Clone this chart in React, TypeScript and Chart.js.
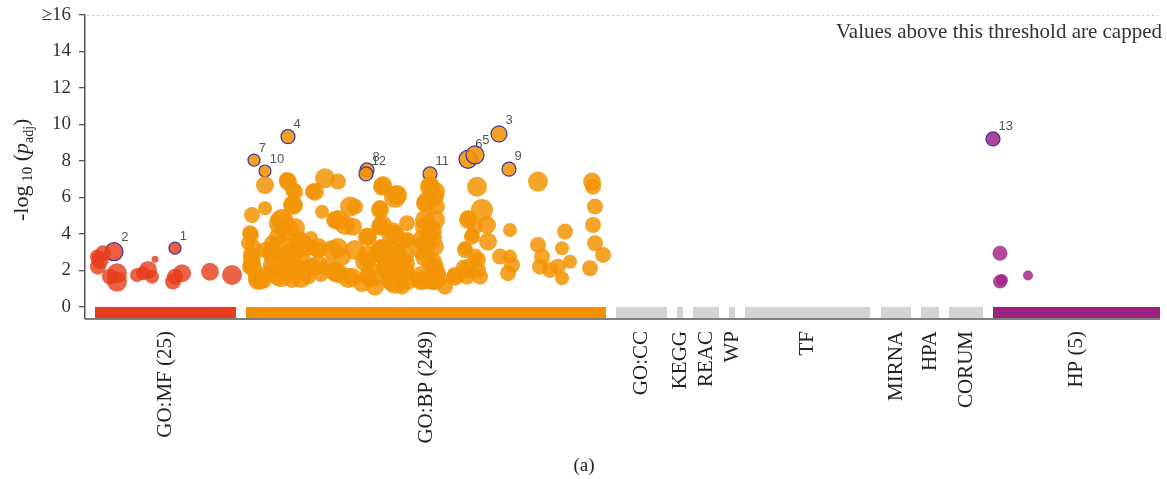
import React, { useEffect, useRef } from 'react';
import { Chart, registerables } from 'chart.js';

Chart.register(...registerables);

// ---- axis / tick data ----
const yTickValues = [0, 2, 4, 6, 8, 10, 12, 14, 16];
const yCapValue = 16;
const yCapLabel = '≥16';
const capNote = 'Values above this threshold are capped';
const panelLabel = '(a)';

// ---- data sources along the x axis (term positions) ----
const sourceNames = ['GO:MF (25)', 'GO:BP (249)', 'GO:CC', 'KEGG', 'REAC', 'WP', 'TF', 'MIRNA', 'HPA', 'CORUM', 'HP (5)'];
const sourceStart = [10, 161, 531, 592, 608, 644, 660, 796, 836, 864, 908];
const sourceEnd = [151, 521, 582, 598, 634, 650, 785, 826, 854, 898, 1075];
const sourceColors = ['#e73c1e', '#f39200', '#d4d4d4', '#d4d4d4', '#d4d4d4', '#d4d4d4', '#d4d4d4', '#d4d4d4', '#d4d4d4', '#d4d4d4', '#9c2180'];

// ---- points: [position, -log10(p_adj), size] ----
const mfPoints: [number, number, number][] = [
  [15, 2.58, 9], [18, 2.94, 8], [13, 2.21, 8], [12, 2.76, 7], [32, 1.85, 10], [32, 1.39, 10], [25, 1.66, 8],
  [52, 1.75, 7], [58, 1.85, 7], [63, 2.03, 9], [70, 2.61, 3.5], [67, 1.66, 7],
  [88, 1.39, 8], [97, 1.85, 9], [90, 1.66, 8], [125, 1.93, 9], [147, 1.75, 10],
];
const mfHighlighted: [number, number, number][] = [[29, 3.03, 9], [90, 3.22, 6]];
const mfHighlightIds = ['2', '1'];

const bpPoints: [number, number, number][] = [
  [167, 5.04, 8], [165, 4.04, 8], [163, 3.49, 7], [167, 2.76, 9], [165, 2.21, 8], [172, 1.66, 9], [175, 1.39, 8],
  [180, 6.68, 9], [180, 5.41, 7], [180, 3.12, 8], [182, 1.85, 8], [168, 3.30, 8], [167, 2.39, 9], [178, 1.48, 9], [187, 3.49, 8],
  [202, 6.96, 8], [208, 6.41, 8], [208, 5.59, 9], [197, 4.77, 11], [193, 3.85, 9], [203, 4.22, 11], [215, 3.67, 9],
  [190, 2.76, 11], [207, 2.94, 11], [223, 3.30, 9], [233, 3.12, 8], [203, 2.03, 11], [193, 1.66, 9], [217, 2.03, 10],
  [227, 2.21, 9], [207, 1.48, 8],
  [240, 7.05, 10], [253, 6.87, 8], [228, 6.32, 8], [237, 5.22, 7], [265, 5.50, 10], [250, 4.77, 9], [260, 4.49, 10],
  [247, 3.12, 10], [257, 2.76, 9], [253, 1.85, 10], [267, 1.66, 9], [243, 2.21, 9], [223, 1.66, 8],
  [297, 6.59, 9], [310, 6.04, 11], [295, 5.32, 9], [270, 5.50, 8], [322, 4.59, 8], [295, 4.40, 9], [307, 4.04, 11],
  [282, 3.85, 9], [322, 3.67, 8], [297, 3.12, 11], [310, 2.94, 11], [283, 2.76, 11], [303, 2.21, 11], [320, 2.39, 10],
  [283, 1.66, 9], [307, 1.48, 11], [323, 1.48, 10], [337, 1.48, 9], [347, 1.48, 10], [353, 1.85, 8],
  [345, 6.59, 10], [350, 6.04, 9], [340, 5.68, 9], [352, 5.50, 8], [340, 4.77, 10], [347, 4.22, 10], [337, 3.67, 10],
  [350, 3.30, 9], [340, 2.76, 10], [350, 2.21, 9], [370, 1.66, 9], [382, 1.66, 8],
  [392, 6.59, 10], [383, 4.77, 9], [390, 4.40, 8], [387, 3.85, 8], [380, 3.12, 8], [390, 2.76, 8], [383, 2.21, 8],
  [277, 1.30, 9], [290, 1.11, 9], [317, 1.11, 8], [360, 1.11, 8],
  [397, 5.32, 11], [402, 4.49, 9], [403, 3.58, 9], [393, 2.58, 8], [378, 2.21, 7], [393, 2.03, 8], [395, 1.66, 8],
  [425, 4.22, 7], [415, 2.76, 8], [425, 2.76, 7], [427, 2.30, 8], [423, 1.85, 8],
  [453, 6.87, 10], [453, 3.40, 8], [457, 2.76, 8], [455, 2.21, 8], [465, 2.03, 8], [477, 3.22, 7], [480, 4.13, 8],
  [473, 2.21, 8], [477, 1.57, 7], [485, 2.48, 7],
  [507, 6.87, 9], [508, 6.59, 8], [510, 5.50, 8], [508, 4.49, 8], [510, 3.49, 8], [518, 2.85, 8], [505, 2.12, 8],
  // dense core
  [203, 6.87, 9], [230, 6.32, 9], [210, 6.32, 8], [208, 5.59, 10], [253, 4.77, 10], [268, 4.40, 9], [196, 4.60, 12],
  [210, 4.33, 10], [166, 3.95, 8], [196, 3.23, 13], [216, 3.40, 12], [233, 3.23, 10], [253, 3.23, 10], [270, 3.12, 10],
  [166, 2.85, 8], [168, 2.14, 9], [173, 1.48, 10], [190, 2.30, 12], [213, 2.48, 13], [233, 2.30, 10], [196, 1.75, 12],
  [216, 1.59, 10], [250, 1.93, 10], [263, 1.59, 10], [236, 1.75, 7], [183, 3.03, 7], [226, 3.78, 7],
  [298, 6.68, 9], [312, 6.14, 10], [295, 5.42, 8], [297, 4.49, 10], [283, 3.85, 9], [310, 3.95, 10], [323, 3.67, 7],
  [297, 3.03, 12], [317, 2.85, 12], [280, 2.48, 10], [303, 2.14, 12], [287, 1.75, 12], [320, 1.93, 10], [310, 1.39, 12],
  [337, 1.59, 12], [350, 1.59, 12], [347, 2.48, 10], [338, 3.23, 12], [347, 3.78, 10], [340, 4.40, 10], [350, 4.77, 10],
  [342, 5.77, 10], [350, 6.32, 10], [345, 6.68, 9], [370, 1.75, 8], [383, 1.93, 7], [380, 3.23, 7], [387, 3.95, 7],
  [383, 4.88, 8],
];
const bpHighlighted: [number, number, number][] = [
  [169, 8.05, 6], [180, 7.45, 6], [203, 9.33, 7], [282, 7.51, 7], [281, 7.29, 7],
  [345, 7.29, 7], [383, 8.09, 9], [390, 8.33, 9], [414, 9.48, 8], [424, 7.55, 7],
];
const bpHighlightIds = ['7', '10', '4', '8', '12', '11', '6', '5', '3', '9'];

const hpPoints: [number, number, number][] = [[915, 2.94, 7.5], [915, 1.39, 7], [917, 1.48, 6], [943, 1.72, 5]];
const hpHighlighted: [number, number, number][] = [[908, 9.21, 7]];
const hpHighlightIds = ['13'];

const toBubbles = (arr: [number, number, number][]) => arr.map(([x, y, r]) => ({ x, y, r }));

const SERIF = '"Liberation Serif", "DejaVu Serif", serif';
const SANS = '"Liberation Sans", Arial, sans-serif';

export default function App() {
  const canvasRef = useRef<HTMLCanvasElement | null>(null);

  useEffect(() => {
    const canvas = canvasRef.current;
    if (!canvas) return;

    const highlightSets = [
      { pts: mfHighlighted, ids: mfHighlightIds },
      { pts: bpHighlighted, ids: bpHighlightIds },
      { pts: hpHighlighted, ids: hpHighlightIds },
    ];

    const decorPlugin = {
      id: 'decor',
      beforeDatasetsDraw(chart: any) {
        const { ctx, chartArea, scales } = chart;
        const xs = scales.x;
        const ys = scales.y;
        ctx.save();
        const yCap = ys.getPixelForValue(yCapValue);
        ctx.strokeStyle = '#c4c4c4';
        ctx.lineWidth = 1;
        ctx.setLineDash([2, 3]);
        ctx.beginPath();
        ctx.moveTo(chartArea.left + 2, yCap + 0.5);
        ctx.lineTo(xs.getPixelForValue(1073), yCap + 0.5);
        ctx.stroke();
        ctx.setLineDash([]);
        const y0 = ys.getPixelForValue(0);
        const yb = chartArea.bottom - 1;
        for (let i = 0; i < sourceNames.length; i++) {
          const x0 = xs.getPixelForValue(sourceStart[i]);
          const x1 = xs.getPixelForValue(sourceEnd[i]);
          ctx.fillStyle = sourceColors[i];
          ctx.fillRect(x0, y0, x1 - x0, yb - y0);
        }
        ctx.strokeStyle = '#555';
        ctx.lineWidth = 1.3;
        ctx.beginPath();
        ctx.moveTo(chartArea.left, chartArea.bottom);
        ctx.lineTo(chartArea.right, chartArea.bottom);
        ctx.stroke();
        ctx.restore();
      },
      afterDatasetsDraw(chart: any) {
        const { ctx, scales } = chart;
        const xs = scales.x;
        const ys = scales.y;
        ctx.save();
        ctx.font = `13px ${SANS}`;
        ctx.fillStyle = '#555';
        ctx.textAlign = 'left';
        ctx.textBaseline = 'alphabetic';
        highlightSets.forEach((set) => {
          set.pts.forEach(([x, y, r], i) => {
            const px = xs.getPixelForValue(x);
            const py = ys.getPixelForValue(y);
            ctx.fillText(set.ids[i], px + r * 0.8, py - r - 2);
          });
        });
        ctx.restore();
      },
      afterDraw(chart: any) {
        const { ctx, chartArea, scales } = chart;
        const xs = scales.x;
        ctx.save();
        ctx.fillStyle = '#222';
        ctx.font = `21px ${SERIF}`;
        ctx.textAlign = 'right';
        ctx.textBaseline = 'middle';
        for (let i = 0; i < sourceNames.length; i++) {
          const cx = xs.getPixelForValue((sourceStart[i] + sourceEnd[i]) / 2);
          ctx.save();
          ctx.translate(cx, chartArea.bottom + 12);
          ctx.rotate(-Math.PI / 2);
          ctx.fillText(sourceNames[i], 0, 0);
          ctx.restore();
        }
        ctx.fillStyle = '#333';
        ctx.font = `21px ${SERIF}`;
        ctx.textAlign = 'right';
        ctx.textBaseline = 'alphabetic';
        ctx.fillText(capNote, chartArea.right + 2, chartArea.top + 23);
        ctx.fillStyle = '#222';
        ctx.font = `19px ${SERIF}`;
        ctx.textAlign = 'center';
        ctx.fillText(panelLabel, 584, 471);
        ctx.translate(28, 221);
        ctx.rotate(-Math.PI / 2);
        ctx.textAlign = 'left';
        ctx.fillStyle = '#222';
        let xpos = 0;
        const part = (txt: string, font: string, dy: number) => {
          ctx.font = font;
          ctx.fillText(txt, xpos, dy);
          xpos += ctx.measureText(txt).width;
        };
        part('-log', `22px ${SERIF}`, 0);
        part(' 10', `15px ${SERIF}`, 4);
        part(' (', `22px ${SERIF}`, 0);
        part('p', `italic 22px ${SERIF}`, 0);
        part('adj', `14px ${SERIF}`, 5);
        part(')', `22px ${SERIF}`, 0);
        ctx.restore();
      },
    };

    const hlBorder = '#3b36a0';
    const chart = new Chart(canvas, {
      type: 'bubble',
      data: {
        datasets: [
          { label: 'GO:MF', data: toBubbles(mfPoints), backgroundColor: 'rgba(230,60,25,0.8)', borderWidth: 0 },
          { label: 'GO:BP', data: toBubbles(bpPoints), backgroundColor: 'rgba(243,148,5,0.85)', borderWidth: 0 },
          { label: 'HP', data: toBubbles(hpPoints), backgroundColor: 'rgba(160,35,130,0.82)', borderWidth: 0 },
          { label: 'GO:MF hl', data: toBubbles(mfHighlighted), backgroundColor: 'rgba(230,60,25,0.82)', borderColor: hlBorder, borderWidth: 1.2 },
          { label: 'GO:BP hl', data: toBubbles(bpHighlighted), backgroundColor: 'rgba(243,148,5,0.88)', borderColor: hlBorder, borderWidth: 1.2 },
          { label: 'HP hl', data: toBubbles(hpHighlighted), backgroundColor: 'rgba(160,35,130,0.85)', borderColor: hlBorder, borderWidth: 1.2 },
        ],
      } as any,
      options: {
        responsive: false,
        animation: false,
        events: [],
        layout: { autoPadding: false, padding: { left: 0, right: 7, top: 15, bottom: 160 } },
        plugins: { legend: { display: false }, tooltip: { enabled: false }, title: { display: false } },
        scales: {
          x: { type: 'linear', min: 0, max: 1075, display: false },
          y: {
            type: 'linear',
            min: -0.66,
            max: 16,
            afterFit: (scale: any) => {
              scale.width = 85;
              scale.paddingTop = 0;
              scale.paddingBottom = 0;
            },
            afterBuildTicks: (scale: any) => { scale.ticks = yTickValues.map((v) => ({ value: v })); },
            grid: { drawOnChartArea: false, drawTicks: true, tickLength: 6, color: '#555', lineWidth: 1.3 },
            border: { display: true, color: '#555', width: 1.5 },
            ticks: {
              padding: 8,
              color: '#333',
              font: { family: SERIF, size: 19 },
              callback: (v: any) => (v === yCapValue ? yCapLabel : String(v)),
            },
          },
        },
      } as any,
      plugins: [decorPlugin],
    });

    return () => chart.destroy();
  }, []);

  return (
    <div style={{ position: 'absolute', left: 0, top: 0, width: 1167, height: 479, background: '#fff' }}>
      <canvas ref={canvasRef} width={1167} height={479} />
    </div>
  );
}
